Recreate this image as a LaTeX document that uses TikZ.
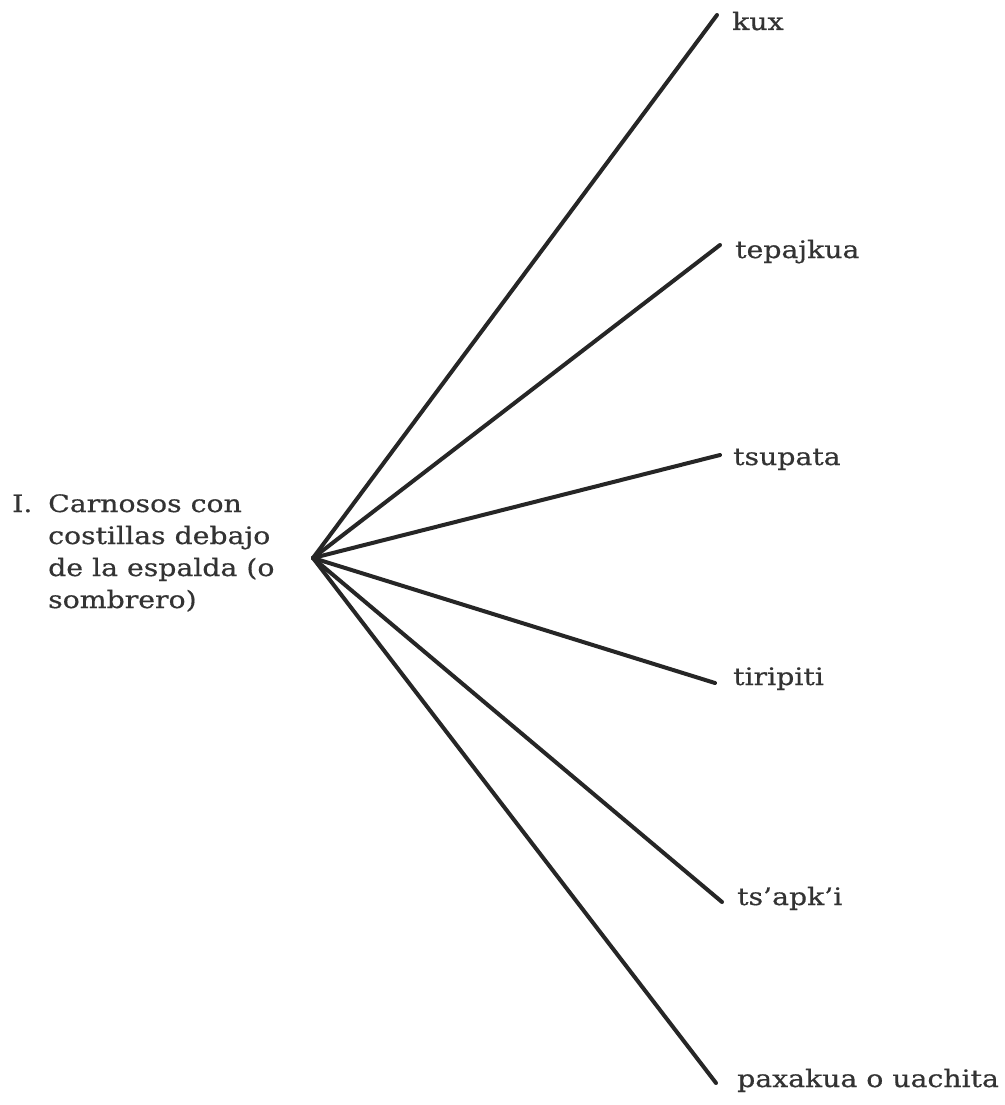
\documentclass[tikz,border=0pt]{standalone}
\usepackage{fontspec}
\setmainfont{DejaVu Serif}
% a slightly wider, heavier face for all labels
\newfontfamily\labelfont{DejaVu Serif}[FakeStretch=1.18,FakeBold=0.5]
\definecolor{ink}{HTML}{262626}
\definecolor{txt}{HTML}{333333}
\begin{document}
\begin{tikzpicture}[x=1pt,y=-1pt,
  branch/.style={draw=ink,line width=4pt,line cap=round},
  leaf/.style={anchor=base west,inner sep=0pt,text=txt,font=\labelfont\fontsize{24}{32}\selectfont},
  rootlabel/.style={anchor=base west,inner sep=0pt,text=txt,font=\labelfont\fontsize{24}{32}\selectfont}]
  \useasboundingbox[fill=white] (0,0) rectangle (1004,1105);

  % root description
  \node[rootlabel] (root) at (12,512) {\begin{tabular}[t]{@{}p{36pt}@{}l@{}}
    I. & Carnosos con\\
       & costillas debajo\\
       & de la espalda (o\\
       & sombrero)
  \end{tabular}};

  % branching point
  \coordinate (hub) at (313,558);

  % branch ends
  \coordinate (e1) at (717,15);
  \coordinate (e2) at (720,245);
  \coordinate (e3) at (720,455);
  \coordinate (e4) at (715,683);
  \coordinate (e5) at (722,902);
  \coordinate (e6) at (716,1083);

  % leaf labels
  \node[leaf] (l1) at (732,30)   {kux};
  \node[leaf] (l2) at (735,258)  {tepajkua};
  \node[leaf] (l3) at (733,465)  {tsupata};
  \node[leaf] (l4) at (733,685)  {tiripiti};
  \node[leaf] (l5) at (737,905)  {ts’apk’i};
  \node[leaf] (l6) at (737,1087) {paxakua o uachita};

  % branches
  \foreach \e in {e1,e2,e3,e4,e5,e6}
    \draw[branch] (hub) -- (\e);
\end{tikzpicture}
\end{document}
